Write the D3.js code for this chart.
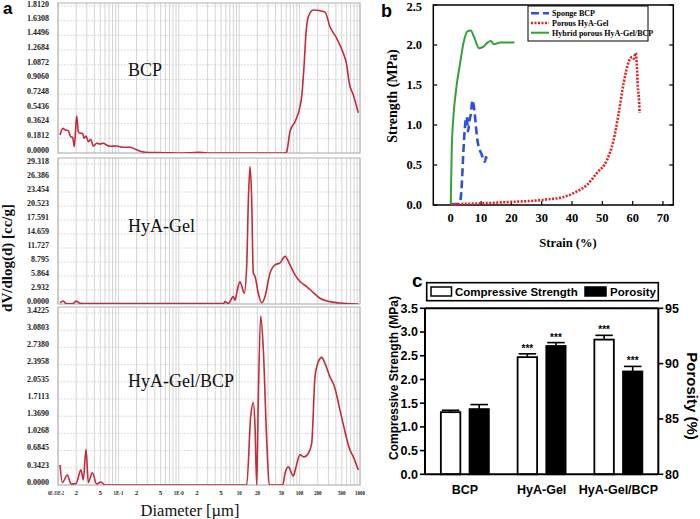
<!DOCTYPE html>
<html><head><meta charset="utf-8">
<script src="https://cdn.jsdelivr.net/npm/d3@7"></script>
<style>body{margin:0;background:#fff}svg{display:block}</style>
</head><body>
<svg id="chart" width="700" height="519"></svg>
<script>
// ---------- Panel a data (diameter in µm, dV/dlog(d) in cc/g) ----------
const bcpDiam = [0.0108,0.012,0.0131,0.0148,0.0162,0.0175,0.0186,0.0204,0.0217,0.0231,0.0256,0.0269,0.0291,0.0318,0.0348,0.0384,0.0437,0.0496,0.0562,0.064,0.0726,0.0938,0.1205,0.156,0.188,0.237,0.333,0.59,1.05,1.6,2.24,3.3,10,57.3,61.1,69.3,83.9,101.6,108.3,118.3,127.6,139.3,168.6,263,318,411,530,603,665,775,937];
const bcpVal  = [0.222,0.304,0.284,0.275,0.201,0.194,0.078,0.456,0.263,0.243,0.243,0.181,0.21,0.139,0.169,0.086,0.12,0.111,0.12,0.099,0.083,0.086,0.07,0.07,0.049,0.018,0.006,0.004,0.0,0.004,0.008,0.0,0.0,0.0,0.016,0.263,0.386,0.571,0.694,1.064,1.475,1.68,1.763,1.738,1.557,1.414,1.229,1.085,0.859,0.715,0.497];
const hyaDiam = [0.0108,0.0122,0.0136,0.0175,0.0199,0.0231,0.03,1,5.5,5.82,6.6,7.98,8.52,9.31,10.3,11.1,12.1,13.3,14.2,15.1,16.1,17.1,18.3,20.7,23.6,26.7,32.4,39.2,47.4,57.3,69.3,83.9,101.6,131,168.6,217.8,318.5,529.6,937];
const hyaVal  = [0.27,0.63,0.1,0.05,0.6,0.15,0.1,0.1,0.1,0.5,0.1,1.54,0.8,2.95,4.7,3.65,2.25,7.87,21.9,28.8,21.9,6.5,5.76,2.25,0.27,1.54,6.5,8.2,8.6,9.98,8.2,6.1,4.7,3.65,2.4,1.2,0.5,0.15,0.0];
const hybDiam = [0.0108,0.0118,0.0143,0.0164,0.0199,0.024,0.0262,0.0291,0.0318,0.037,0.0437,0.0515,0.06,1,13.3,15.5,17.1,18.3,19.5,20.7,22.7,25.1,28.5,31.5,52.5,57.3,65,78.7,87.1,101.6,118.3,139.3,158.6,179.9,204,232,263.3,318.5,375,466.7,565,665,775,937];
const hybVal  = [0.398,0.05,0.2,0.02,0.03,0.3,0.1,0.71,0.05,0.245,0.02,0.06,0,0,0,1.36,1.64,1.16,0,1.69,3.36,2.69,0.9,0,0,0.23,0.36,0.18,0.36,0.6,0.56,0.63,0.83,2.15,2.45,2.54,2.42,2.15,1.97,1.49,1.06,0.73,0.56,0.3];
const bcpTicks = ["0.0000","0.1812","0.3624","0.5436","0.7248","0.9060","1.0872","1.2684","1.4496","1.6308","1.8120"];
const hyaTicks = ["0.0000","2.932","5.864","8.795","11.727","14.659","17.591","20.523","23.454","26.386","29.318"];
const hybTicks = ["0.0000","0.3423","0.6845","1.0268","1.3690","1.7113","2.0535","2.3958","2.7380","3.0803","3.4225"];
const diamTickValues = [0.01,0.02,0.05,0.1,0.2,0.5,1,2,5,10,20,50,100,200,500,1000];
const diamTickLabels = ["6E-31E-2","2","5","1E-1","2","5","1E-0","2","5","10","20","50","100","200","500","1000"];

// ---------- Panel b data (strain %, strength MPa) ----------
const spongeStrain = [0,2,3.1,3.6,4.2,4.8,5.3,5.7,6.2,6.6,7.2,7.7,8.8,10.2,11.3,11.6,12];
const spongeStress = [0.01,0.01,0.04,0.23,0.69,1.02,1.1,0.92,1.06,1.13,1.31,1.21,0.81,0.63,0.54,0.6,0.57];
const porousStrain = [0,9.7,20.7,26.2,31.7,37.2,41.6,44.9,48.2,51.5,53.7,55.4,57.0,58.7,59.8,60.3,61.0,61.4,61.7,62.1,62.3];
const porousStress = [0.01,0.02,0.04,0.05,0.07,0.1,0.17,0.25,0.4,0.56,0.81,1.15,1.52,1.79,1.85,1.83,1.9,1.73,1.48,1.31,1.15];
const hybridStrain = [0,0.33,0.88,1.76,3.08,4.18,5.5,6.6,7.7,9.35,10.8,12.1,13.2,14.3,16.3,19,21];
const hybridStress = [0.01,0.69,1.1,1.44,1.77,2.02,2.17,2.18,2.1,1.96,1.98,2.03,2.05,2.01,2.03,2.03,2.03];
const legendB = ["Sponge BCP","Porous HyA-Gel","Hybrid porous HyA-Gel/BCP"];

// ---------- Panel c data ----------
const groups = ["BCP","HyA-Gel","HyA-Gel/BCP"];
const strength = [1.31,2.47,2.84];
const strengthErr = [0.04,0.07,0.09];
const porosity = [85.9,91.6,89.3];
const porosityErr = [0.4,0.3,0.45];
const strengthSig = ["","***","***"];
const porositySig = ["","***","***"];

const svg = d3.select("#chart");
const serif = "'Liberation Serif','Times New Roman',serif";
const sans = "'Liberation Sans',Arial,sans-serif";
const redA = "#c42b3b";

// ================= Panel a =================
const xA = d3.scaleLog().domain([0.01,1000]).range([58,360]);
const panelsA = [
  {name:"BCP", diam:bcpDiam, val:bcpVal, max:1.812, ticks:bcpTicks, top:3, gridTop:6, bottom:153, textY:76},
  {name:"HyA-Gel", diam:hyaDiam, val:hyaVal, max:29.318, ticks:hyaTicks, top:158, gridTop:164, bottom:304, textY:232},
  {name:"HyA-Gel/BCP", diam:hybDiam, val:hybVal, max:3.4225, ticks:hybTicks, top:307, gridTop:313, bottom:485, textY:387}
];
const minorTicks = [];
for (let e=-2;e<3;e++) for (let k=1;k<10;k++) minorTicks.push(k*Math.pow(10,e));
minorTicks.push(1000);

panelsA.forEach((p,i)=>{
  const g = svg.append("g");
  const y = d3.scaleLinear().domain([0,p.max]).range([p.bottom,p.gridTop]);
  const tv = d3.range(11).map(j=>j*p.max/10);
  g.append("clipPath").attr("id","clipA"+i).append("rect")
    .attr("x",58).attr("y",p.top).attr("width",302).attr("height",p.bottom-p.top);
  g.selectAll(".hg").data(tv).join("line")
    .attr("x1",58).attr("x2",360).attr("y1",d=>y(d)).attr("y2",d=>y(d))
    .attr("stroke","#d4d4d4").attr("stroke-width",0.8).attr("stroke-dasharray","2,1");
  g.selectAll(".vg").data(minorTicks).join("line")
    .attr("x1",d=>xA(d)).attr("x2",d=>xA(d)).attr("y1",p.top).attr("y2",p.bottom)
    .attr("stroke","#c9c9c9").attr("stroke-width",0.8);
  g.append("rect").attr("x",58).attr("y",p.top).attr("width",302).attr("height",p.bottom-p.top)
    .attr("fill","none").attr("stroke","#b0b0b0").attr("stroke-width",1);
  g.selectAll(".yl").data(tv).join("text")
    .attr("x",49).attr("y",(d,j)=>Math.max(y(d)-3, 4)).attr("dy","0.35em")
    .attr("text-anchor","end").attr("font-family",serif).attr("font-weight","bold")
    .attr("font-size",8).attr("fill","#222").text((d,j)=>p.ticks[j]);
  const pts = p.diam.map((d,j)=>[xA(d), y(p.val[j])]);
  g.append("path").attr("clip-path","url(#clipA"+i+")")
    .attr("d", d3.line().curve(d3.curveMonotoneX)(pts))
    .attr("fill","none").attr("stroke",redA).attr("stroke-width",1.6);
  g.append("text").attr("x",128).attr("y",p.textY).attr("font-family",serif)
    .attr("font-size",18).attr("fill","#111").text(p.name);
});
svg.selectAll(".xl").data(diamTickValues).join("text")
  .attr("x",(d,i)=>i===0?56:xA(d)).attr("y",495).attr("text-anchor","middle")
  .attr("font-family",serif).attr("font-weight","bold").attr("font-size",7).attr("fill","#222")
  .attr("textLength",(d,i)=>i===0?16:(diamTickLabels[i].length>1?diamTickLabels[i].length*2.5:null))
  .attr("lengthAdjust","spacingAndGlyphs")
  .text((d,i)=>diamTickLabels[i]);
svg.append("text").attr("x",190).attr("y",516).attr("text-anchor","middle")
  .attr("font-family",serif).attr("font-size",16.5).attr("fill","#111").text("Diameter [µm]");
svg.append("text").attr("transform","translate(12,258) rotate(-90)").attr("text-anchor","middle")
  .attr("font-family",serif).attr("font-weight","bold").attr("font-size",15).attr("fill","#111")
  .text("dV/dlog(d) [cc/g]");
svg.append("text").attr("x",3).attr("y",14).attr("font-family",sans).attr("font-weight","bold")
  .attr("font-size",17).text("a");

// ================= Panel b =================
const xB = d3.scaleLinear().domain([-5.75,73.4]).range([433.3,673.3]);
const yB = d3.scaleLinear().domain([0,2.5]).range([205,5]);
const gb = svg.append("g");
gb.append("rect").attr("x",433.3).attr("y",5).attr("width",240).attr("height",200)
  .attr("fill","none").attr("stroke","#000").attr("stroke-width",1.5);
const yTicksB = [0,0.5,1,1.5,2,2.5];
const xTicksB = [0,10,20,30,40,50,60,70];
gb.selectAll(".ytl").data(yTicksB).join("line")
  .attr("x1",433.3).attr("x2",437.3).attr("y1",d=>yB(d)).attr("y2",d=>yB(d)).attr("stroke","#000").attr("stroke-width",1.2);
gb.selectAll(".ytr").data(yTicksB).join("line")
  .attr("x1",669.3).attr("x2",673.3).attr("y1",d=>yB(d)).attr("y2",d=>yB(d)).attr("stroke","#000").attr("stroke-width",1.2);
gb.selectAll(".xtb").data(xTicksB).join("line")
  .attr("x1",d=>xB(d)).attr("x2",d=>xB(d)).attr("y1",205).attr("y2",201).attr("stroke","#000").attr("stroke-width",1.2);
gb.selectAll(".ylb").data(yTicksB).join("text")
  .attr("x",422).attr("y",d=>Math.max(yB(d),6.5)).attr("dy","0.35em").attr("text-anchor","end")
  .attr("font-family",serif).attr("font-weight","bold").attr("font-size",12.5).text(d=>d.toFixed(1));
gb.selectAll(".xlb").data(xTicksB).join("text")
  .attr("x",d=>xB(d)).attr("y",222).attr("text-anchor","middle")
  .attr("font-family",serif).attr("font-weight","bold").attr("font-size",12.5).text(d=>d);
gb.append("text").attr("transform","translate(397,96) rotate(-90)").attr("text-anchor","middle")
  .attr("font-family",serif).attr("font-weight","bold").attr("font-size",14).text("Strength (MPa)");
gb.append("text").attr("x",568).attr("y",247).attr("text-anchor","middle")
  .attr("font-family",serif).attr("font-weight","bold").attr("font-size",12.5).text("Strain (%)");
gb.append("text").attr("x",381).attr("y",17).attr("font-family",sans).attr("font-weight","bold")
  .attr("font-size",18).text("b");
const seriesB = [
  {x:spongeStrain, y:spongeStress, color:"#2f4fe0", dash:"8,4", w:2.6},
  {x:porousStrain, y:porousStress, color:"#ee1c1c", dash:"2,1.5", w:2.6},
  {x:hybridStrain, y:hybridStress, color:"#35a035", dash:null, w:2}
];
seriesB.forEach(s=>{
  const pts = s.x.map((v,i)=>[xB(v), yB(s.y[i])]);
  gb.append("path").attr("d", d3.line().curve(d3.curveMonotoneX)(pts)).attr("fill","none")
    .attr("stroke",s.color).attr("stroke-width",s.w).attr("stroke-dasharray",s.dash)
    .attr("stroke-linejoin","round");
});
gb.append("rect").attr("x",528).attr("y",6).attr("width",120).attr("height",35)
  .attr("fill","#fff").attr("stroke","#000").attr("stroke-width",1);
legendB.forEach((t,i)=>{
  const yy = 13.3 + i*9.7;
  gb.append("line").attr("x1",531).attr("x2",549).attr("y1",yy).attr("y2",yy)
    .attr("stroke",seriesB[i].color).attr("stroke-width",seriesB[i].w).attr("stroke-dasharray",seriesB[i].dash);
  gb.append("text").attr("x",552).attr("y",yy).attr("dy","0.35em")
    .attr("font-family",serif).attr("font-weight","bold").attr("font-size",8).text(t);
});

// ================= Panel c =================
const xC = d3.scalePoint().domain(groups).range([425,658.3]).padding(0.52);
const yC = d3.scaleLinear().domain([0,3.5]).range([474.3,308.3]);
const yC2 = d3.scaleLinear().domain([80,95]).range([474.3,308.3]);
const gc = svg.append("g");
const bw = 19.5, off = 14.3;
groups.forEach((gname,i)=>{
  const cx = xC(gname);
  const sTop = yC(strength[i]), sCap = yC(strength[i]+strengthErr[i]);
  gc.append("line").attr("x1",cx-off).attr("x2",cx-off).attr("y1",sTop).attr("y2",sCap).attr("stroke","#000").attr("stroke-width",1.6);
  gc.append("line").attr("x1",cx-off-bw*0.45).attr("x2",cx-off+bw*0.45).attr("y1",sCap).attr("y2",sCap).attr("stroke","#000").attr("stroke-width",1.6);
  gc.append("rect").attr("x",cx-off-bw/2).attr("y",sTop).attr("width",bw).attr("height",yC(0)-sTop)
    .attr("fill","#fff").attr("stroke","#000").attr("stroke-width",1.8);
  const pTop = yC2(porosity[i]), pCap = yC2(porosity[i]+porosityErr[i]);
  gc.append("line").attr("x1",cx+off).attr("x2",cx+off).attr("y1",pTop).attr("y2",pCap).attr("stroke","#000").attr("stroke-width",1.6);
  gc.append("line").attr("x1",cx+off-bw*0.45).attr("x2",cx+off+bw*0.45).attr("y1",pCap).attr("y2",pCap).attr("stroke","#000").attr("stroke-width",1.6);
  gc.append("rect").attr("x",cx+off-bw/2).attr("y",pTop).attr("width",bw).attr("height",yC2(80)-pTop)
    .attr("fill","#000").attr("stroke","#000").attr("stroke-width",1.6);
  gc.append("text").attr("x",cx-off).attr("y",sCap-2).attr("text-anchor","middle")
    .attr("font-family",sans).attr("font-weight","bold").attr("font-size",10).text(strengthSig[i]);
  gc.append("text").attr("x",cx+off).attr("y",pCap-2).attr("text-anchor","middle")
    .attr("font-family",sans).attr("font-weight","bold").attr("font-size",10).text(porositySig[i]);
  gc.append("text").attr("x",cx).attr("y",494).attr("text-anchor","middle")
    .attr("font-family",sans).attr("font-weight","bold").attr("font-size",12.5).text(gname);
});
gc.append("line").attr("x1",425).attr("x2",658.3).attr("y1",474.3).attr("y2",474.3).attr("stroke","#000").attr("stroke-width",2);
gc.append("line").attr("x1",425).attr("x2",658.3).attr("y1",308.3).attr("y2",308.3).attr("stroke","#000").attr("stroke-width",2);
gc.append("line").attr("x1",425).attr("x2",425).attr("y1",308.3).attr("y2",474.3).attr("stroke","#000").attr("stroke-width",2);
gc.append("line").attr("x1",658.3).attr("x2",658.3).attr("y1",308.3).attr("y2",474.3).attr("stroke","#000").attr("stroke-width",2);
const yTicksC = d3.range(0,3.51,0.5);
const yTicksC2 = [80,85,90,95];
gc.selectAll(".tl").data(yTicksC).join("line").attr("x1",420).attr("x2",425)
  .attr("y1",d=>yC(d)).attr("y2",d=>yC(d)).attr("stroke","#000").attr("stroke-width",1.6);
gc.selectAll(".tr").data(yTicksC2).join("line").attr("x1",658.3).attr("x2",663.3)
  .attr("y1",d=>yC2(d)).attr("y2",d=>yC2(d)).attr("stroke","#000").attr("stroke-width",1.6);
gc.selectAll(".ll").data(yTicksC).join("text").attr("x",418).attr("y",d=>yC(d)).attr("dy","0.35em")
  .attr("text-anchor","end").attr("font-family",sans).attr("font-weight","bold").attr("font-size",12.5).text(d=>d.toFixed(1));
gc.selectAll(".rl").data(yTicksC2).join("text").attr("x",665).attr("y",d=>yC2(d)).attr("dy","0.35em")
  .attr("font-family",sans).attr("font-weight","bold").attr("font-size",12.5).text(d=>d);
gc.append("text").attr("transform","translate(398,378) rotate(-90)").attr("text-anchor","middle")
  .attr("font-family",sans).attr("font-weight","bold").attr("font-size",12).text("Compressive Strength (MPa)");
gc.append("text").attr("transform","translate(687,396) rotate(90)").attr("text-anchor","middle")
  .attr("font-family",sans).attr("font-weight","bold").attr("font-size",15).text("Porosity (%)");
gc.append("rect").attr("x",426.7).attr("y",282.7).attr("width",231.6).attr("height",18)
  .attr("fill","#fff").attr("stroke","#000").attr("stroke-width",1.6);
gc.append("rect").attr("x",431).attr("y",287).attr("width",20.5).attr("height",9)
  .attr("fill","#fff").attr("stroke","#000").attr("stroke-width",1.5);
gc.append("text").attr("x",455).attr("y",296).attr("font-family",sans).attr("font-weight","bold")
  .attr("font-size",11.5).text("Compressive Strength");
gc.append("rect").attr("x",585).attr("y",287).attr("width",21).attr("height",9)
  .attr("fill","#000").attr("stroke","#000").attr("stroke-width",1.5);
gc.append("text").attr("x",610).attr("y",296).attr("font-family",sans).attr("font-weight","bold")
  .attr("font-size",11.5).text("Porosity");
gc.append("text").attr("x",412).attr("y",287).attr("font-family",sans).attr("font-weight","bold")
  .attr("font-size",19).text("c");
</script>
</body></html>
